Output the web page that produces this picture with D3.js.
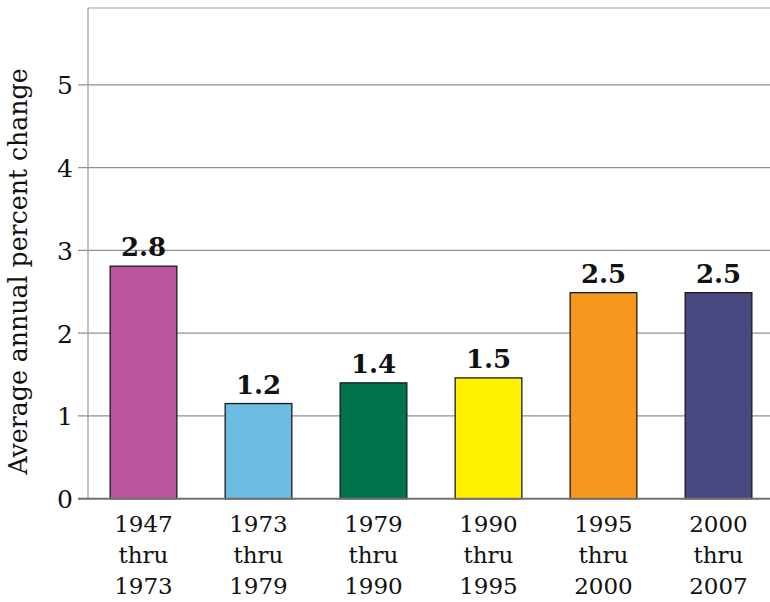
<!DOCTYPE html>
<html>
<head>
<meta charset="utf-8">
<script src="https://cdn.jsdelivr.net/npm/d3@7"></script>
<style>
  html, body { margin: 0; padding: 0; background: #fff; }
  svg { display: block; }
  text { font-family: "DejaVu Serif", "Liberation Serif", serif; fill: #111; }
</style>
</head>
<body>
<svg id="chart" width="770" height="602"></svg>
<script>
// ---- data ----
const categories = [
  ["1947", "thru", "1973"],
  ["1973", "thru", "1979"],
  ["1979", "thru", "1990"],
  ["1990", "thru", "1995"],
  ["1995", "thru", "2000"],
  ["2000", "thru", "2007"]
];
const values = [2.81, 1.15, 1.4, 1.46, 2.49, 2.49];
const valueLabels = ["2.8", "1.2", "1.4", "1.5", "2.5", "2.5"];
const barColors = ["#BA559D", "#6DBBE3", "#00744B", "#FFF200", "#F7971D", "#484881"];
const yTicks = [0, 1, 2, 3, 4, 5];
const yTitle = "Average annual percent change";

(function () {
// ---- layout ----
const svg = d3.select("#chart");
const mLeft = 88, mRight = 770, mTop = 8, mBottom = 498.7;

const y = d3.scaleLinear().domain([0, 5.93]).range([mBottom, mTop]);
const x = d3.scaleBand()
  .domain(categories.map((d, i) => i))
  .range([86, 776])
  .paddingInner(0.42)
  .paddingOuter(0.21);

// top border
svg.append("line")
  .attr("x1", mLeft).attr("x2", mRight)
  .attr("y1", y.range()[1]).attr("y2", y.range()[1])
  .attr("stroke", "#9a9a9a").attr("stroke-width", 1.2);

// gridlines (with tick stubs)
svg.append("g").selectAll("line")
  .data(yTicks.filter(d => d > 0))
  .join("line")
  .attr("x1", mLeft - 10).attr("x2", mRight)
  .attr("y1", d => y(d)).attr("y2", d => y(d))
  .attr("stroke", "#8f8f8f").attr("stroke-width", 1.2);

// left axis line
svg.append("line")
  .attr("x1", mLeft).attr("x2", mLeft)
  .attr("y1", y.range()[1]).attr("y2", y(0))
  .attr("stroke", "#9a9a9a").attr("stroke-width", 1.2);

// y tick labels via axis
const yAxis = d3.axisLeft(y).tickValues(yTicks).tickSize(0).tickPadding(15).tickFormat(d3.format("d"));
const gy = svg.append("g").attr("transform", `translate(${mLeft},0)`).call(yAxis);
gy.select(".domain").remove();
gy.selectAll("text")
  .style("font-family", '"DejaVu Serif", serif')
  .style("font-size", "25px")
  .attr("fill", "#111")
  .attr("dy", "0.36em");

// bars
svg.append("g").selectAll("rect")
  .data(values)
  .join("rect")
  .attr("x", (d, i) => x(i))
  .attr("width", x.bandwidth())
  .attr("y", d => y(d))
  .attr("height", d => y(0) - y(d))
  .attr("fill", (d, i) => barColors[i])
  .attr("stroke", "#1a1a1a")
  .attr("stroke-width", 1.3);

// zero baseline
svg.append("line")
  .attr("x1", mLeft - 10).attr("x2", mRight)
  .attr("y1", y(0)).attr("y2", y(0))
  .attr("stroke", "#6f6f6f").attr("stroke-width", 2);

// value labels
svg.append("g").selectAll("text")
  .data(values)
  .join("text")
  .attr("x", (d, i) => x(i) + x.bandwidth() / 2)
  .attr("y", d => y(d) - 10)
  .attr("text-anchor", "middle")
  .style("font-size", "26px")
  .style("font-weight", "bold")
  .text((d, i) => valueLabels[i]);

// category labels
const cat = svg.append("g").selectAll("text")
  .data(categories)
  .join("text")
  .attr("text-anchor", "middle")
  .style("font-size", "23px");
cat.selectAll("tspan")
  .data((d, i) => d.map(s => ({ s, i })))
  .join("tspan")
  .attr("x", d => x(d.i) + x.bandwidth() / 2)
  .attr("y", (d, j) => 531.5 + j * 31.2)
  .text(d => d.s);

// y title
svg.append("text")
  .attr("transform", `translate(26.5, ${(69 + 474) / 2}) rotate(-90)`)
  .attr("text-anchor", "middle")
  .style("font-size", "25.2px")
  .text(yTitle);
})();
</script>
</body>
</html>
